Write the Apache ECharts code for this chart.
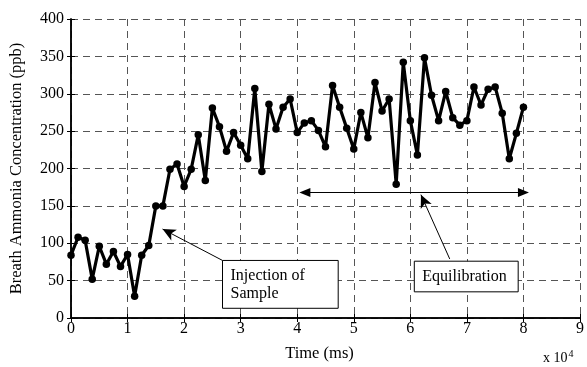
<!DOCTYPE html>
<html>
<head>
<meta charset="utf-8">
<script src="https://cdn.jsdelivr.net/npm/echarts@6/dist/echarts.min.js"></script>
<style>html,body{margin:0;padding:0;background:#fff}#c{width:587px;height:367px}</style>
</head>
<body>
<div id="c"></div>
<script>
// time step 1250 ms, 0..80000 ms
const times = [0,1250,2500,3750,5000,6250,7500,8750,10000,11250,12500,13750,15000,16250,17500,18750,20000,21250,22500,23750,25000,26250,27500,28750,30000,31250,32500,33750,35000,36250,37500,38750,40000,41250,42500,43750,45000,46250,47500,48750,50000,51250,52500,53750,55000,56250,57500,58750,60000,61250,62500,63750,65000,66250,67500,68750,70000,71250,72500,73750,75000,76250,77500,78750,80000];
const concentration = [84,108,104,52,96,72,89,69,85,29,84,97,150,150,199,206,176,199,245,184,281,256,223,248,231,213,307,196,286,253,282,293,248,261,264,251,229,311,282,254,226,275,241,315,277,293,179,342,264,218,348,298,264,303,268,258,264,309,285,306,309,274,213,247,282];
const xTickLabels = ['0','1','2','3','4','5','6','7','8','9'];
const yTicks = [0,50,100,150,200,250,300,350,400];

// annotations (data coordinates)
const equilibrationRange = [[41350,168],[80000,168]];
const injectionArrow = [[26790,77],[16190,119]];
const equilibrationArrow = [[66965,79],[61877,165]];
const injectionBox = [[26790,77],[47246,13]];
const equilibrationBox = [[60702,76],[79070,35]];

const FONT = 'Liberation Serif';
const chart = echarts.init(document.getElementById('c'));
const dashed = {show:true, lineStyle:{color:'#555', type:[7,5], width:1}};
chart.setOption({
  animation:false,
  grid:{left:70, right:6, top:19, bottom:48},
  xAxis:[{
    type:'value', min:0, max:90000, interval:10000,
    axisLine:{show:true, onZero:false, lineStyle:{color:'#000', width:1.5}},
    axisTick:{show:true, inside:true, length:4, lineStyle:{color:'#000'}},
    axisLabel:{color:'#000', fontFamily:FONT, fontSize:16, margin:3,
      formatter:v=>xTickLabels[Math.round(v/10000)]},
    splitLine:dashed,
    name:'Time (ms)', nameLocation:'middle', nameGap:27,
    nameTextStyle:{color:'#000', fontFamily:FONT, fontSize:16.5, padding:[0,12,0,0]}
  },{
    type:'value', position:'top', min:0, max:90000, interval:10000,
    axisLine:{show:true, lineStyle:{color:'#000', width:1.5}},
    axisTick:{show:true, inside:true, length:4, lineStyle:{color:'#000'}},
    axisLabel:{show:false}, splitLine:{show:false}
  }],
  yAxis:[{
    type:'value', min:0, max:400, interval:50,
    axisLine:{show:true, onZero:false, lineStyle:{color:'#000', width:1.5}},
    axisTick:{show:true, inside:true, length:4, lineStyle:{color:'#000'}},
    axisLabel:{color:'#000', fontFamily:FONT, fontSize:16, margin:7,
      formatter:v=>yTicks.includes(v)?String(v):''},
    splitLine:dashed,
    name:'Breath Ammonia Concentration (ppb)', nameLocation:'middle', nameGap:46,
    nameTextStyle:{color:'#000', fontFamily:FONT, fontSize:16.5}
  },{
    type:'value', position:'right', min:0, max:400, interval:50,
    axisLine:{show:true, lineStyle:{color:'#000', width:1.5}},
    axisTick:{show:true, inside:true, length:4, lineStyle:{color:'#000'}},
    axisLabel:{show:false}, splitLine:{show:false}
  }],
  series:[{
    type:'line',
    data:times.map((t,i)=>[t, concentration[i]]),
    lineStyle:{color:'#000', width:3.2},
    itemStyle:{color:'#000'},
    symbol:'circle', symbolSize:7.5, showSymbol:true,
    z:5,
    markLine:{
      silent:true, animation:false,
      label:{show:false},
      lineStyle:{color:'#000', width:1, type:'solid'},
      emphasis:{disabled:true},
      data:[
        [{coord:equilibrationRange[0], symbol:'triangle', symbolSize:[9,11]},{coord:equilibrationRange[1], symbol:'triangle', symbolSize:[9,11]}],
        [{coord:injectionArrow[0], symbol:'none'},{coord:injectionArrow[1], symbol:'arrow', symbolSize:[9,13]}],
        [{coord:equilibrationArrow[0], symbol:'none'},{coord:equilibrationArrow[1], symbol:'arrow', symbolSize:[9,13]}]
      ]
    }
  }]
});

function boxGraphic(box, lines, id){
  const p1 = chart.convertToPixel({gridIndex:0}, box[0]);
  const p2 = chart.convertToPixel({gridIndex:0}, box[1]);
  return {
    type:'group', id:id, z:100,
    children:[
      {type:'rect', shape:{x:p1[0], y:p1[1], width:p2[0]-p1[0], height:p2[1]-p1[1]},
       style:{fill:'#fff', stroke:'#000', lineWidth:1}},
      {type:'text', x:p1[0]+8, y:(p1[1]+p2[1])/2,
       style:{text:lines, fill:'#000', font:'16px "'+FONT+'"', verticalAlign:'middle', lineHeight:18}}
    ]
  };
}
chart.setOption({graphic:[
  boxGraphic(injectionBox, 'Injection of\nSample', 'inj'),
  boxGraphic(equilibrationBox, 'Equilibration', 'equ'),
  {type:'text', id:'exp', x:543, y:349, z:100,
   style:{rich:{b:{fontFamily:FONT, fontSize:14, fill:'#000'}, s:{fontFamily:FONT, fontSize:10, fill:'#000', verticalAlign:'top', padding:[0,0,8,1]}},
     text:'{b|x 10}{s|4}'}}
]});
</script>
</body>
</html>
